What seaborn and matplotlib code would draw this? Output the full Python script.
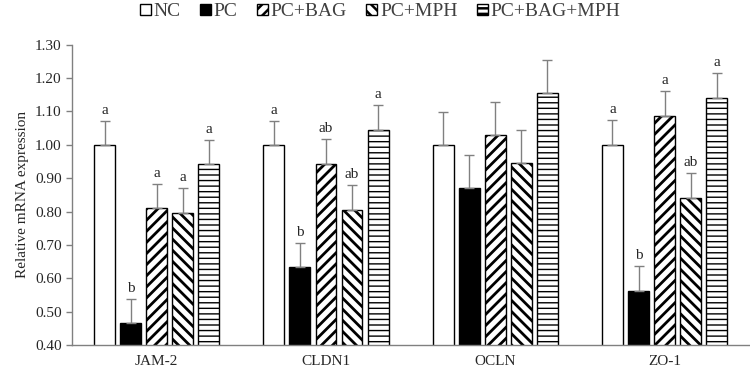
import numpy as np
import pandas as pd
import matplotlib
matplotlib.use("Agg")
import matplotlib.pyplot as plt
from matplotlib.patches import Patch
import seaborn as sns

# data
genes = ["JAM-2", "CLDN1", "OCLN", "ZO-1"]
groups = ["NC", "PC", "PC+BAG", "PC+MPH", "PC+BAG+MPH"]
nc = [1.00, 1.00, 1.00, 1.00]
pc = [0.465, 0.633, 0.872, 0.562]
bag = [0.811, 0.944, 1.030, 1.087]
mph = [0.797, 0.806, 0.946, 0.840]
bag_mph = [0.943, 1.045, 1.155, 1.141]
nc_err = [0.072, 0.072, 0.098, 0.075]
pc_err = [0.073, 0.073, 0.099, 0.075]
bag_err = [0.072, 0.073, 0.098, 0.074]
mph_err = [0.073, 0.073, 0.099, 0.077]
bag_mph_err = [0.072, 0.073, 0.098, 0.075]
nc_lab = ["a", "a", "", "a"]
pc_lab = ["b", "b", "", "b"]
bag_lab = ["a", "ab", "", "a"]
mph_lab = ["a", "ab", "", "ab"]
bag_mph_lab = ["a", "a", "", "a"]

means = [nc, pc, bag, mph, bag_mph]
errs = [nc_err, pc_err, bag_err, mph_err, bag_mph_err]
labs = [nc_lab, pc_lab, bag_lab, mph_lab, bag_mph_lab]
hatches = ["", "", "///", "\\\\\\", "---"]
hatch_lw = [1.0, 1.0, 2.0, 2.0, 1.0]
colors = ["white", "black", "white", "white", "white"]

rows = []
for g, vals in zip(groups, means):
    for gene, v in zip(genes, vals):
        rows.append({"gene": gene, "group": g, "value": v})
df = pd.DataFrame(rows)

sns.set_style("white")
plt.rcParams["font.family"] = ["Liberation Serif", "DejaVu Serif"]
plt.rcParams["hatch.linewidth"] = 1.8

fig = plt.figure(figsize=(7.5, 3.73), dpi=100)
ax = fig.add_axes([0.096, 0.075, 0.903, 0.805])

sns.barplot(data=df, x="gene", y="value", hue="group", hue_order=groups,
            palette=colors, edgecolor="black", linewidth=1.0, width=0.77,
            gap=0.2, errorbar=None, legend=False, ax=ax)

bar_conts = list(ax.containers)
for i, cont in enumerate(bar_conts):
    for j, bar in enumerate(cont.patches):
        bar.set_hatch(hatches[i])
        if hasattr(bar, "set_hatch_linewidth"):
            bar.set_hatch_linewidth(hatch_lw[i])
        x = bar.get_x() + bar.get_width() / 2
        top = bar.get_height()
        ax.errorbar(x, top, yerr=[[0], [errs[i][j]]], fmt="none",
                    ecolor="#808080", elinewidth=1.0, capsize=3.5, capthick=1.0)
        if labs[i][j]:
            ax.text(x, top + errs[i][j] + 0.012, labs[i][j], ha="center",
                    va="bottom", fontsize=11)

ax.set_ylim(0.40, 1.30)
ax.set_yticks(np.arange(0.40, 1.31, 0.10))
ax.set_yticklabels([f"{t:.2f}" for t in np.arange(0.40, 1.31, 0.10)], fontsize=11)
ax.set_xlim(-0.5, 3.5)
ax.set_xticks(range(len(genes)))
ax.set_xticklabels(genes, fontsize=11)
ax.tick_params(axis="x", length=0, pad=7)
ax.set_xticks(np.arange(-0.5, 3.6, 1.0), minor=True)
ax.tick_params(axis="x", which="minor", length=7, direction="inout",
               color="#808080", width=1)
ax.tick_params(axis="y", length=4, direction="out", color="#808080",
               left=True, width=1)
ax.set_xlabel("")
ax.set_ylabel("Relative mRNA expression", fontsize=11)

for s in ["top", "right"]:
    ax.spines[s].set_visible(False)
for s in ["left", "bottom"]:
    ax.spines[s].set_color("#808080")
    ax.spines[s].set_linewidth(1)

handles = []
for c, h, lw in zip(colors, hatches, hatch_lw):
    p = Patch(facecolor=c, edgecolor="black", hatch=h, linewidth=1)
    if hasattr(p, "set_hatch_linewidth"):
        p.set_hatch_linewidth(lw)
    handles.append(p)
leg = fig.legend(handles, groups, loc="center", bbox_to_anchor=(0.507, 0.968),
                 ncol=5, frameon=False, fontsize=14, handlelength=0.55,
                 handleheight=0.55, handletextpad=0.15, columnspacing=1.0,
                 borderpad=0)
for t in leg.get_texts():
    t.set_color("#404040")

fig.savefig("out.png", dpi=100)
